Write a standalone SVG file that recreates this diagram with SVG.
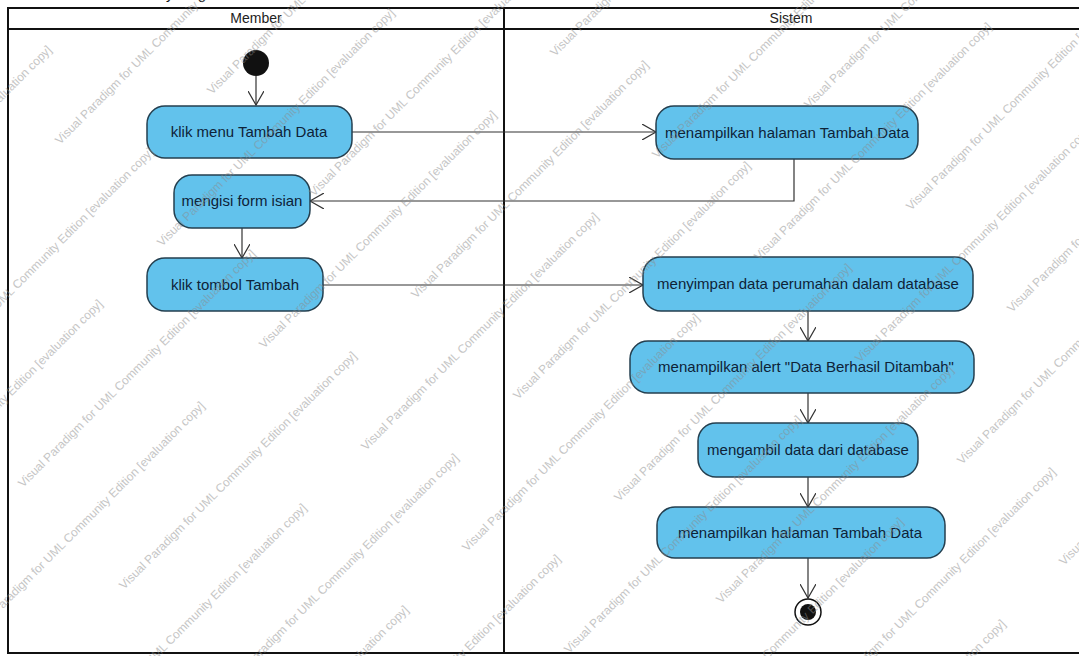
<svg xmlns="http://www.w3.org/2000/svg" width="1079" height="656" viewBox="0 0 1079 656">
<style>
.lane{fill:none;stroke:#111;stroke-width:2}
.hdr{font-family:"Liberation Sans",Arial,sans-serif;font-size:14px;fill:#222;text-anchor:middle}
.act{fill:#62C2EC;stroke:#243f4f;stroke-width:1.5}
.lbl{font-family:"Liberation Sans",Arial,sans-serif;font-size:15px;fill:#0e2338;text-anchor:middle}
.edge{fill:none;stroke:#333;stroke-width:1.2}
.wm{font-family:"Liberation Sans",Arial,sans-serif;font-size:12px;fill:#8c8c8c;opacity:0.5}
.title{font-family:"Liberation Sans",Arial,sans-serif;font-size:15px;fill:#111}
</style>
<defs>
<marker id="arr" viewBox="0 0 16 16" refX="14" refY="8" markerWidth="16" markerHeight="16" orient="auto" markerUnits="userSpaceOnUse">
<path d="M0,0 L14,8 L0,16" fill="none" stroke="#333" stroke-width="1.2"/>
</marker>
</defs>
<rect width="1079" height="656" fill="#ffffff"/>
<text class="title" x="126" y="-1">Activity diagram</text>
<g id="lanes">
<rect class="lane" x="8" y="8" width="1080" height="645"/>
<line class="lane" x1="8" y1="29" x2="1079" y2="29"/>
<line class="lane" x1="504" y1="8" x2="504" y2="653"/>
<text class="hdr" x="256" y="23">Member</text>
<text class="hdr" x="791" y="23">Sistem</text>
</g>
<g id="connectors">
<line class="edge" x1="256" y1="76" x2="256" y2="105" marker-end="url(#arr)"/>
<line class="edge" x1="352" y1="132" x2="656" y2="132" marker-end="url(#arr)"/>
<polyline class="edge" points="794,159 794,201 310,201" marker-end="url(#arr)"/>
<line class="edge" x1="242" y1="228" x2="242" y2="258" marker-end="url(#arr)"/>
<line class="edge" x1="323" y1="285" x2="643" y2="285" marker-end="url(#arr)"/>
<line class="edge" x1="808" y1="311" x2="808" y2="341" marker-end="url(#arr)"/>
<line class="edge" x1="808" y1="393" x2="808" y2="423" marker-end="url(#arr)"/>
<line class="edge" x1="808" y1="477" x2="808" y2="507" marker-end="url(#arr)"/>
<line class="edge" x1="808" y1="558" x2="808" y2="598" marker-end="url(#arr)"/>
</g>
<g id="start"><circle cx="256" cy="63" r="13" fill="#111"/></g>
<g id="n1"><rect class="act" x="147" y="106" width="205" height="52" rx="18"/><text class="lbl" x="249" y="137">klik menu Tambah Data</text></g>
<g id="n2"><rect class="act" x="174" y="175" width="136" height="53" rx="18"/><text class="lbl" x="242" y="206">mengisi form isian</text></g>
<g id="n3"><rect class="act" x="147" y="258" width="176" height="53" rx="18"/><text class="lbl" x="235" y="290">klik tombol Tambah</text></g>
<g id="s1"><rect class="act" x="656" y="106" width="262" height="53" rx="18"/><text class="lbl" x="787" y="138">menampilkan halaman Tambah Data</text></g>
<g id="s2"><rect class="act" x="643" y="257" width="330" height="54" rx="18"/><text class="lbl" x="808" y="289">menyimpan data perumahan dalam database</text></g>
<g id="s3"><rect class="act" x="630" y="341" width="344" height="52" rx="18"/><text class="lbl" x="806" y="372">menampilkan alert "Data Berhasil Ditambah"</text></g>
<g id="s4"><rect class="act" x="698" y="423" width="220" height="54" rx="18"/><text class="lbl" x="808" y="455">mengambil data dari database</text></g>
<g id="s5"><rect class="act" x="657" y="507" width="288" height="51" rx="18"/><text class="lbl" x="800" y="538">menampilkan halaman Tambah Data</text></g>
<g id="end"><circle cx="808" cy="612" r="13" fill="#fff" stroke="#111" stroke-width="1.5"/><circle cx="808" cy="612" r="8" fill="#111"/></g>
<g id="watermark">
<text class="wm" transform="translate(-181,284) rotate(-45)">Visual Paradigm for UML Community Edition [evaluation copy]</text>
<text class="wm" transform="translate(60,145) rotate(-45)">Visual Paradigm for UML Community Edition [evaluation copy]</text>
<text class="wm" transform="translate(212,95) rotate(-45)">Visual Paradigm for UML Community Edition [evaluation copy]</text>
<text class="wm" transform="translate(-79,386) rotate(-45)">Visual Paradigm for UML Community Edition [evaluation copy]</text>
<text class="wm" transform="translate(162,247) rotate(-45)">Visual Paradigm for UML Community Edition [evaluation copy]</text>
<text class="wm" transform="translate(-130,538) rotate(-45)">Visual Paradigm for UML Community Edition [evaluation copy]</text>
<text class="wm" transform="translate(314,197) rotate(-45)">Visual Paradigm for UML Community Edition [evaluation copy]</text>
<text class="wm" transform="translate(23,488) rotate(-45)">Visual Paradigm for UML Community Edition [evaluation copy]</text>
<text class="wm" transform="translate(264,349) rotate(-45)">Visual Paradigm for UML Community Edition [evaluation copy]</text>
<text class="wm" transform="translate(555,57) rotate(-45)">Visual Paradigm for UML Community Edition [evaluation copy]</text>
<text class="wm" transform="translate(-28,640) rotate(-45)">Visual Paradigm for UML Community Edition [evaluation copy]</text>
<text class="wm" transform="translate(416,299) rotate(-45)">Visual Paradigm for UML Community Edition [evaluation copy]</text>
<text class="wm" transform="translate(124,590) rotate(-45)">Visual Paradigm for UML Community Edition [evaluation copy]</text>
<text class="wm" transform="translate(366,451) rotate(-45)">Visual Paradigm for UML Community Edition [evaluation copy]</text>
<text class="wm" transform="translate(657,159) rotate(-45)">Visual Paradigm for UML Community Edition [evaluation copy]</text>
<text class="wm" transform="translate(74,742) rotate(-45)">Visual Paradigm for UML Community Edition [evaluation copy]</text>
<text class="wm" transform="translate(518,400) rotate(-45)">Visual Paradigm for UML Community Edition [evaluation copy]</text>
<text class="wm" transform="translate(809,109) rotate(-45)">Visual Paradigm for UML Community Edition [evaluation copy]</text>
<text class="wm" transform="translate(226,692) rotate(-45)">Visual Paradigm for UML Community Edition [evaluation copy]</text>
<text class="wm" transform="translate(467,552) rotate(-45)">Visual Paradigm for UML Community Edition [evaluation copy]</text>
<text class="wm" transform="translate(759,261) rotate(-45)">Visual Paradigm for UML Community Edition [evaluation copy]</text>
<text class="wm" transform="translate(176,844) rotate(-45)">Visual Paradigm for UML Community Edition [evaluation copy]</text>
<text class="wm" transform="translate(619,502) rotate(-45)">Visual Paradigm for UML Community Edition [evaluation copy]</text>
<text class="wm" transform="translate(911,211) rotate(-45)">Visual Paradigm for UML Community Edition [evaluation copy]</text>
<text class="wm" transform="translate(328,793) rotate(-45)">Visual Paradigm for UML Community Edition [evaluation copy]</text>
<text class="wm" transform="translate(569,654) rotate(-45)">Visual Paradigm for UML Community Edition [evaluation copy]</text>
<text class="wm" transform="translate(860,363) rotate(-45)">Visual Paradigm for UML Community Edition [evaluation copy]</text>
<text class="wm" transform="translate(721,604) rotate(-45)">Visual Paradigm for UML Community Edition [evaluation copy]</text>
<text class="wm" transform="translate(1012,313) rotate(-45)">Visual Paradigm for UML Community Edition [evaluation copy]</text>
<text class="wm" transform="translate(671,756) rotate(-45)">Visual Paradigm for UML Community Edition [evaluation copy]</text>
<text class="wm" transform="translate(962,465) rotate(-45)">Visual Paradigm for UML Community Edition [evaluation copy]</text>
<text class="wm" transform="translate(823,706) rotate(-45)">Visual Paradigm for UML Community Edition [evaluation copy]</text>
<text class="wm" transform="translate(773,858) rotate(-45)">Visual Paradigm for UML Community Edition [evaluation copy]</text>
<text class="wm" transform="translate(1064,566) rotate(-45)">Visual Paradigm for UML Community Edition [evaluation copy]</text>
</g>
</svg>
